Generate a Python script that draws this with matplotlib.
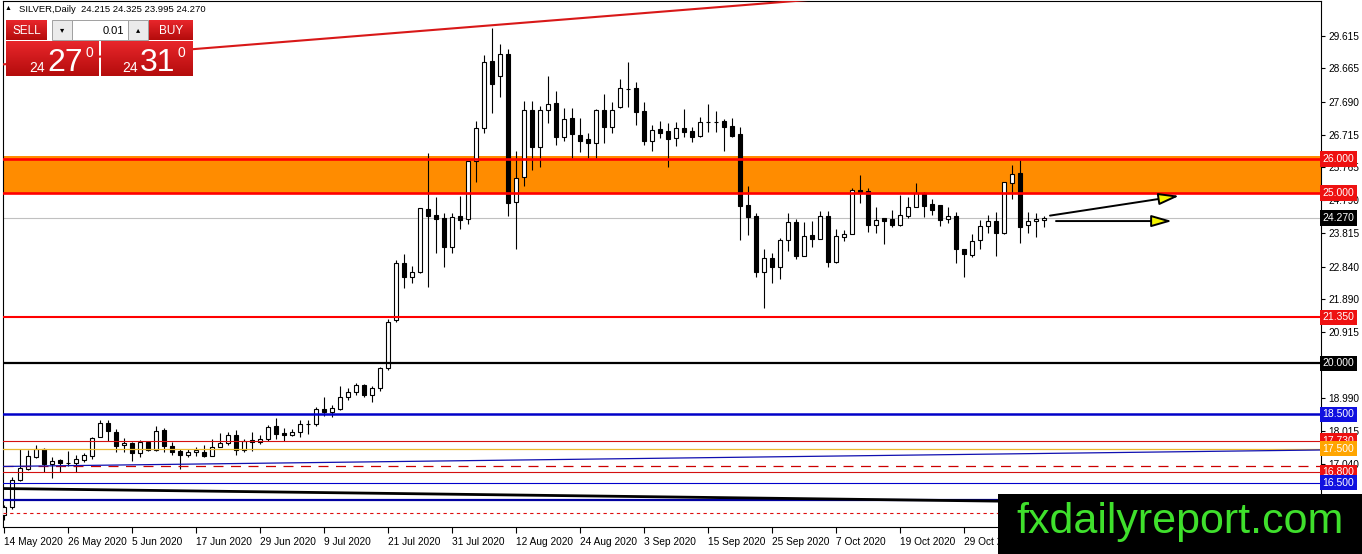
import numpy as np
import matplotlib.pyplot as plt
from matplotlib.patches import Rectangle, FancyArrowPatch
from matplotlib.colors import LinearSegmentedColormap
from matplotlib.transforms import blended_transform_factory

plt.rcParams['font.family'] = ['Liberation Sans', 'DejaVu Sans']

W, H = 1362, 554

# SILVER daily candles, 14 May 2020 .. 12 Nov 2020 (one per trading day)
opens = [15.55, 15.79, 16.58, 16.90, 17.26, 17.50, 17.05, 17.16, 17.07, 17.06,
         17.16, 17.28, 17.83, 18.26, 17.99, 17.59, 17.65, 17.36, 17.68, 17.46,
         18.04, 17.58, 17.43, 17.31, 17.39, 17.41, 17.29, 17.535, 17.65, 17.90,
         17.46, 17.75, 17.69, 17.77, 18.15, 17.96, 17.89, 17.98, 18.21, 18.21,
         18.65, 18.58, 18.65, 19.00, 19.15, 19.37, 19.08, 19.27, 19.855, 21.275,
         22.94, 22.53, 22.69, 24.52, 24.36, 24.26, 23.43, 24.32, 24.23, 25.935,
         26.90, 28.87, 28.44, 29.09, 24.75, 25.465, 27.44, 26.36, 27.44, 27.64,
         26.64, 27.20, 26.71, 26.59, 26.48, 27.44, 26.95, 27.52, 28.06, 28.08,
         27.41, 26.54, 26.87, 26.83, 26.61, 26.90, 26.83, 26.68, 27.09, 27.10,
         27.13, 26.97, 26.74, 24.65, 24.33, 22.69, 23.10, 22.84, 23.62, 24.16,
         23.15, 23.77, 23.64, 24.33, 22.99, 23.72, 23.79, 25.09, 25.07, 24.06,
         24.26, 24.24, 24.06, 24.34, 24.58, 24.99, 24.68, 24.65, 24.23, 24.33,
         23.36, 23.18, 23.62, 24.04, 24.18, 23.84, 25.29, 25.58, 24.06, 24.17,
         24.215]
highs = [15.85, 16.67, 17.50, 17.46, 17.60, 17.52, 17.24, 17.20, 17.43, 17.31,
         17.38, 17.85, 18.34, 18.34, 18.06, 17.80, 17.70, 17.75, 17.70, 18.16,
         18.11, 17.70, 17.49, 17.48, 17.55, 17.60, 17.78, 17.97, 17.995, 18.04,
         17.78, 17.995, 17.90, 18.18, 18.39, 18.09, 18.06, 18.34, 18.34, 18.73,
         19.00, 18.78, 19.34, 19.27, 19.43, 19.40, 19.34, 19.90, 21.29, 23.04,
         23.20, 22.87, 24.56, 26.17, 24.90, 24.41, 24.43, 24.92, 25.95, 27.12,
         29.06, 29.84, 29.38, 29.22, 26.24, 27.71, 27.71, 27.56, 28.44, 28.01,
         27.49, 27.49, 27.20, 26.76, 27.46, 27.91, 27.67, 28.34, 28.86, 28.27,
         27.67, 27.00, 27.13, 27.07, 27.10, 27.46, 26.93, 27.25, 27.62, 27.41,
         27.18, 27.20, 26.93, 25.21, 24.43, 23.35, 23.25, 23.67, 24.41, 24.23,
         24.16, 24.19, 24.48, 24.48, 23.94, 23.92, 25.14, 25.53, 25.14, 24.60,
         24.26, 24.50, 24.95, 24.90, 25.29, 25.04, 24.82, 24.65, 24.58, 24.45,
         23.36, 23.80, 24.21, 24.35, 24.46, 25.32, 25.83, 25.97, 24.46, 24.41,
         24.325]
lows = [15.40, 15.71, 16.55, 16.88, 17.22, 16.82, 16.64, 16.82, 16.98, 16.82,
        17.10, 17.20, 17.83, 17.73, 17.41, 17.41, 17.14, 17.24, 17.43, 17.44,
        17.41, 17.31, 16.89, 17.24, 17.28, 17.24, 17.29, 17.53, 17.59, 17.31,
        17.40, 17.44, 17.62, 17.72, 17.77, 17.72, 17.87, 17.85, 17.93, 18.16,
        18.46, 18.42, 18.64, 18.93, 19.08, 19.02, 18.88, 19.20, 19.81, 21.23,
        22.20, 22.35, 22.66, 22.23, 23.25, 22.84, 23.23, 23.95, 24.08, 25.34,
        26.78, 27.34, 27.81, 24.33, 23.36, 25.22, 25.68, 25.76, 27.05, 26.41,
        26.54, 26.02, 26.22, 26.02, 26.02, 26.46, 26.78, 27.49, 27.52, 27.00,
        26.41, 26.25, 26.61, 25.78, 26.37, 26.64, 26.51, 26.64, 26.81, 26.81,
        26.25, 26.64, 23.62, 23.77, 22.55, 21.62, 22.37, 22.47, 23.31, 23.08,
        23.15, 23.43, 23.64, 22.82, 22.94, 23.60, 23.79, 24.72, 23.87, 23.82,
        23.51, 24.02, 24.04, 24.26, 24.58, 24.31, 24.36, 24.04, 24.13, 22.96,
        22.53, 23.13, 23.35, 23.84, 23.16, 23.80, 24.83, 23.53, 23.84, 23.72,
        23.995]
closes = [15.79, 16.57, 16.92, 17.28, 17.50, 17.05, 17.14, 17.06, 17.08, 17.18,
          17.30, 17.80, 18.26, 18.00, 17.58, 17.67, 17.36, 17.70, 17.46, 18.02,
          17.58, 17.41, 17.31, 17.41, 17.46, 17.29, 17.535, 17.65, 17.90, 17.46,
          17.73, 17.69, 17.78, 18.12, 17.93, 17.89, 17.995, 18.21, 18.22, 18.65,
          18.57, 18.68, 19.00, 19.15, 19.37, 19.08, 19.27, 19.855, 21.225, 22.94,
          22.53, 22.68, 24.55, 24.34, 24.25, 23.43, 24.31, 24.21, 25.94, 26.90,
          28.84, 28.22, 29.09, 24.72, 25.44, 27.44, 26.36, 27.44, 27.61, 26.64,
          27.17, 26.73, 26.54, 26.48, 27.44, 26.95, 27.44, 28.08, 28.07, 27.39,
          26.54, 26.85, 26.78, 26.59, 26.90, 26.81, 26.64, 27.08, 27.10, 27.09,
          26.95, 26.68, 24.63, 24.31, 22.69, 23.10, 22.82, 23.62, 24.16, 23.15,
          23.74, 23.64, 24.33, 22.99, 23.74, 23.80, 25.09, 25.03, 24.06, 24.21,
          24.19, 24.06, 24.36, 24.58, 24.99, 24.63, 24.50, 24.21, 24.33, 23.35,
          23.20, 23.60, 24.04, 24.18, 23.84, 25.32, 25.55, 24.02, 24.18, 24.24,
          24.27]
ask_price = 24.310
lot_size = 0.01

date_ticks = [0, 8, 16, 24, 32, 40, 48, 56, 64, 72, 80, 88, 96, 104, 112, 120]
date_labels = ['14 May 2020', '26 May 2020', '5 Jun 2020', '17 Jun 2020',
               '29 Jun 2020', '9 Jul 2020', '21 Jul 2020', '31 Jul 2020',
               '12 Aug 2020', '24 Aug 2020', '3 Sep 2020', '15 Sep 2020',
               '25 Sep 2020', '7 Oct 2020', '19 Oct 2020', '29 Oct 2020']
# 19.940 and 16.065 sit under the 20.000 tag and the watermark, so they are left out
price_ticks = [29.615, 28.665, 27.690, 26.715, 25.765, 24.790, 23.815, 22.840,
               21.890, 20.915, 18.990, 18.015, 17.040]

# supply zone and horizontal levels
zone_low, zone_high = 25.0, 26.1
level_prices = [26.0, 25.0, 21.35, 20.0, 18.5, 17.73, 17.5, 17.0, 16.8, 16.5, 16.0, 15.6]
level_colors = ['#ff0000', '#ff0000', '#ff0000', 'black', '#0000c8', '#d41010',
                '#e8b830', '#cc0000', '#d41010', '#0000cc', '#0000a0', '#dd1010']
level_widths = [1.9, 1.9, 1.5, 1.6, 1.8, 0.8, 0.9, 0.9, 0.8, 0.8, 1.6, 0.8]
level_styles = ['-', '-', '-', '-', '-', '-', '-', (0, (8, 6)), '-', '-', '-', (0, (3, 3))]

tag_prices = [26.0, 25.0, 24.27, 21.35, 20.0, 18.5, 17.73, 17.5, 16.8, 16.5]
tag_colors = ['#ee1111', '#ee1111', 'black', '#ee1111', 'black', '#1010e0',
              '#ee1111', '#ffa500', '#ee1111', '#1010e0']

# trend lines: (bar, price) anchors
red_trend = [(23.875, 29.233), (95.75, 30.584)]
blue_trend = [(-0.5, 16.972), (164.6, 17.457)]
black_trend = [(-0.5, 16.326), (164.6, 15.835)]

# projection arrows drawn by the analyst
arrow_up = [(130.75, 24.34), (146.9, 24.92)]
arrow_flat = [(131.5, 24.18), (146.0, 24.18)]

fig = plt.figure(figsize=(W / 100, H / 100), dpi=100)
ax = fig.add_axes([3 / W, 27 / H, 1318 / W, 526 / H])
ax.set_xlim(-0.125, 164.625)
ax.set_ylim(15.195, 30.643)

x = np.arange(len(opens))
o = np.array(opens)
c = np.array(closes)
body_cols = np.where(c >= o, 'white', 'black')

ax.axhspan(zone_low, zone_high, color='#ff8c00', lw=0, zorder=1)
ax.axhline(closes[-1], color='#c0c0c0', lw=0.8, zorder=2)

ax.vlines(x, lows, highs, color='black', lw=0.8, zorder=3)
ax.bar(x, np.abs(c - o), bottom=np.minimum(o, c), width=0.55, color=body_cols,
       edgecolor='black', linewidth=0.8, zorder=4)

for p, col, lw, ls in zip(level_prices, level_colors, level_widths, level_styles):
    ax.axhline(p, color=col, lw=lw, ls=ls, zorder=5)


def trend(pts, **kw):
    (x0, y0), (x1, y1) = pts
    k = (y1 - y0) / (x1 - x0)
    xs = np.array([-1, 170])
    ax.plot(xs, y0 + k * (xs - x0), **kw)


trend(red_trend, color='#d81818', lw=1.5, zorder=5)
trend(blue_trend, color='#1010b0', lw=0.9, zorder=5)
trend(black_trend, color='black', lw=2.0, zorder=5)

for pts in (arrow_up, arrow_flat):
    ax.add_patch(FancyArrowPatch(pts[0], pts[1], arrowstyle='-|>,head_length=1.25,head_width=0.36',
                                 mutation_scale=10, fc='#f5f500', ec='black', lw=1.4,
                                 shrinkA=0, shrinkB=0, zorder=6))

# axes and ticks
for s in ax.spines.values():
    s.set_color('black')
    s.set_linewidth(0.8)
ax.yaxis.tick_right()
ax.set_yticks(price_ticks)
ax.set_yticklabels([f'{p:.3f}' for p in price_ticks])
ax.tick_params(axis='y', direction='out', length=3, width=0.8, pad=2, labelsize=7.3)
ax.set_xticks(date_ticks)
ax.set_xticklabels(date_labels)
ax.tick_params(axis='x', direction='out', length=4, width=0.8, pad=3, labelsize=7.3)
for t in ax.get_xticklabels():
    t.set_ha('left')

trans = blended_transform_factory(ax.transAxes, ax.transData)
for p, col in zip(tag_prices, tag_colors):
    ax.text(1.0012, p, f'{p:.3f}', transform=trans, ha='left', va='center',
            color='white', fontsize=7.5, clip_on=False, zorder=20,
            bbox=dict(boxstyle='square,pad=0.26', fc=col, ec='none'))

# overlay: trade panel and watermark, in pixel coordinates
ov = fig.add_axes([0, 0, 1, 1], zorder=10)
ov.axis('off')

ov.text(5, 9, '\u25b2', fontsize=5, va='center', ha='left')
ov.text(19, 9.5, f'SILVER,Daily  {opens[-1]:.3f} {highs[-1]:.3f} {lows[-1]:.3f} {closes[-1]:.3f}',
        fontsize=6.8, va='center', ha='left')

red_cmap = LinearSegmentedColormap.from_list('btn', ['#e8262b', '#b40c0c'])
grad = np.linspace(0, 1, 40).reshape(-1, 1)
for x0, x1 in ((6, 47), (149, 193), (6, 99), (101, 193)):
    y0, y1 = (20, 40) if x1 - x0 < 60 else (41, 76)
    ov.imshow(grad, extent=(x0, x1, y1, y0), cmap=red_cmap, aspect='auto', zorder=1)

for bx, glyph in ((52, '\u25be'), (128, '\u25b4')):
    ov.add_patch(Rectangle((bx, 20), 20, 20, fc='#ebebeb', ec='#a0a0a0', lw=0.7, zorder=1))
    ov.text(bx + 10, 30.5, glyph, fontsize=6, ha='center', va='center', zorder=2)
ov.add_patch(Rectangle((72, 20), 56, 20, fc='white', ec='#a0a0a0', lw=0.7, zorder=1))
ov.text(124, 30.5, f'{lot_size:.2f}', fontsize=8, ha='right', va='center', zorder=2)
ov.text(26.5, 30.5, 'SELL', fontsize=8.5, color='white', ha='center', va='center', zorder=2)
ov.text(171, 30.5, 'BUY', fontsize=8.5, color='white', ha='center', va='center', zorder=2)

for px, price in ((29, closes[-1]), (122, ask_price)):
    s = f'{price:.3f}'
    ov.text(px, 72, s[:2], fontsize=10, color='white', ha='left', va='baseline', zorder=2)
    ov.text(px + 18, 71, s[3:5], fontsize=23, color='white', ha='left', va='baseline', zorder=2)
    ov.text(px + 56, 57, s[5], fontsize=10, color='white', ha='left', va='baseline', zorder=2)

ov.add_patch(Rectangle((998, 494), 364, 60, fc='black', ec='none', zorder=3))
ov.text(1180, 522, 'fxdailyreport.com', color='#3fe02c', fontsize=31,
        ha='center', va='center', zorder=4)

ov.set_xlim(0, W)
ov.set_ylim(H, 0)

fig.savefig('out.png', dpi=100)
